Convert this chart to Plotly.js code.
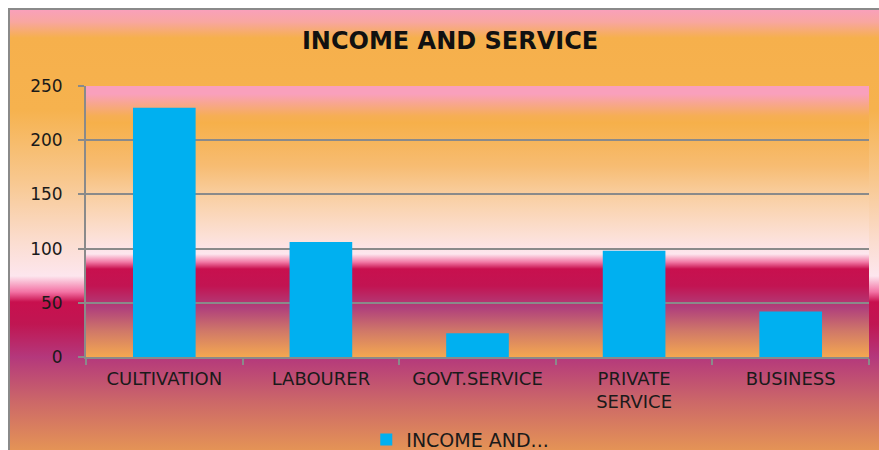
<!DOCTYPE html>
<html>
<head>
<meta charset="utf-8">
<script src="https://cdn.plot.ly/plotly-3.0.1.min.js"></script>
<style>
  html, body { margin: 0; padding: 0; background: #ffffff; width: 879px; height: 450px; overflow: hidden; }
  #wrap { position: relative; width: 879px; height: 450px; overflow: hidden; }
  #chartbg {
    position: absolute; left: 8px; top: 8px; width: 900px; height: 460px;
    border: 2px solid #8a8a8a; box-sizing: border-box;
    background: linear-gradient(to bottom,
      #F9A0BA 0px, #F8A6A0 12px, #F6B04C 28px, #F6B24E 100px,
      #F8C890 172px, #FBDDD0 232px, #FDE6EE 266px, #F372A4 282px,
      #C8104E 292px, #C01652 314px, #B4387C 347px, #CC6868 392px, #E59555 442px, #EFA050 470px);
  }
  #plotbg {
    position: absolute; left: 86px; top: 86px; width: 783px; height: 271px;
    background: linear-gradient(to bottom,
      #F9A0BC 0px, #F9A0BC 8px, #F6AE54 30px, #F6B04A 37px, #F7BC72 80px,
      #F9CFA2 110px, #FCE0D6 150px, #FDE6EE 168px, #F27AA6 176px, #C8104E 183px,
      #C21452 200px, #B0407C 222px, #D07868 245px, #F4A850 271px);
  }
  #chart { position: absolute; left: 0; top: 0; width: 879px; height: 450px; }
</style>
</head>
<body>
<div id="wrap">
  <div id="chartbg"></div>
  <div id="plotbg"></div>
  <div id="chart"></div>
</div>
<script>
const categories = ["CULTIVATION", "LABOURER", "GOVT.SERVICE", "PRIVATE<br>SERVICE", "BUSINESS"];
const values = [230, 106, 22, 98, 42];
const seriesName = "INCOME AND...";
const yTickValues = [0, 50, 100, 150, 200, 250];

const trace = {
  type: "bar",
  x: categories,
  y: values,
  name: seriesName,
  marker: { color: "#00B0F0" },
  showlegend: true,
  hoverinfo: "x+y"
};

const axisGray = "#8a8a8a";
const fontFam = "DejaVu Sans, Liberation Sans, sans-serif";

const layout = {
  width: 879,
  height: 450,
  margin: { l: 86, r: 10, t: 86, b: 93, autoexpand: false },
  paper_bgcolor: "rgba(0,0,0,0)",
  plot_bgcolor: "rgba(0,0,0,0)",
  title: {
    text: "<b>INCOME AND SERVICE</b>",
    font: { family: fontFam, size: 24, color: "#111111" },
    x: 0.512, xanchor: "center",
    y: 0.91, yanchor: "middle", yref: "container"
  },
  bargap: 0.6,
  xaxis: {
    type: "category",
    automargin: false,
    showline: true, linecolor: axisGray, linewidth: 2,
    ticks: "outside", tickson: "boundaries", ticklen: 6, tickcolor: axisGray, tickwidth: 2,
    tickfont: { family: fontFam, size: 18, color: "#1a1a1a" },
    ticklabelstandoff: 4,
    showgrid: false
  },
  yaxis: {
    range: [0, 250],
    tickvals: yTickValues,
    automargin: false,
    showline: true, linecolor: axisGray, linewidth: 2,
    ticks: "outside", ticklen: 6, tickcolor: axisGray, tickwidth: 2,
    tickfont: { family: fontFam, size: 17, color: "#1a1a1a" },
    ticklabelstandoff: 12,
    showgrid: true, gridcolor: axisGray, gridwidth: 2,
    zeroline: false
  },
  legend: {
    orientation: "h",
    x: 0.478, xanchor: "center",
    y: -0.305, yanchor: "middle",
    bgcolor: "rgba(0,0,0,0)",
    font: { family: fontFam, size: 19, color: "#1a1a1a" },
    itemwidth: 30
  },
  showlegend: true
};

Plotly.newPlot("chart", [trace], layout, { displayModeBar: false, responsive: false });
</script>
</body>
</html>
